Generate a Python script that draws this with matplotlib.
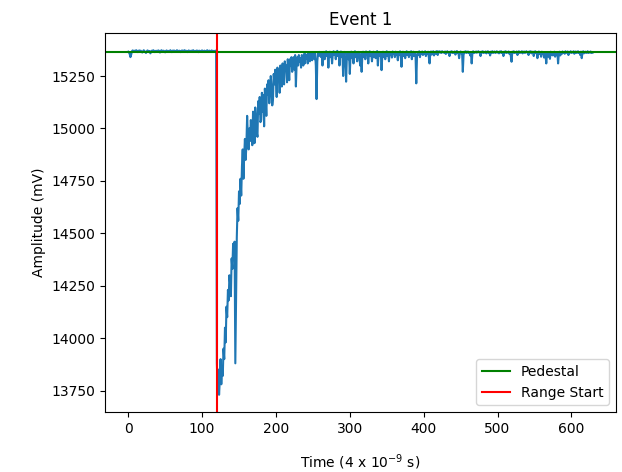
import numpy as np
import matplotlib
matplotlib.use('Agg')
import matplotlib.pyplot as plt

# waveform, in mV
pre_pulse = [
    15366, 15362, 15355, 15340, 15352, 15368, 15372, 15370, 15366, 15371,
    15369, 15373, 15368, 15364, 15370, 15372, 15367, 15371, 15366, 15362,
    15368, 15373, 15369, 15365, 15360, 15367, 15372, 15370, 15366, 15369,
    15358, 15366, 15371, 15368, 15373, 15369, 15364, 15370, 15367, 15371,
    15366, 15372, 15368, 15362, 15369, 15373, 15370, 15366, 15371, 15367,
    15363, 15369, 15372, 15368, 15365, 15370, 15366, 15373, 15369, 15364,
    15371, 15367, 15372, 15368, 15366, 15370, 15373, 15369, 15365, 15371,
    15368, 15364, 15370, 15372, 15367, 15369, 15373, 15366, 15371, 15368,
    15364, 15369, 15372, 15367, 15370, 15366, 15371, 15368, 15373, 15369,
    15365, 15370, 15367, 15372, 15368, 15364, 15371, 15369, 15366, 15370,
    15372, 15368, 15365, 15371, 15369, 15366, 15370, 15373, 15367, 15369,
    15371, 15366, 15368, 15372, 15369, 15365, 15370, 15367, 15371, 15368,
]
pulse = [
    13880, 13760, 13850, 13730, 13800, 13900, 13780, 13860, 13820, 13950,
    13900, 14050, 13980, 14150, 14100, 14230, 14180, 14300, 14260, 14200,
    14380, 14330, 14450, 14400, 14460, 13880, 14200, 14480, 14620, 14560,
    14700, 14640, 14760, 14680, 14820, 14900, 14760, 14870, 14950, 14850,
    14920, 15060, 14960, 14900, 15000, 14940, 15040, 14980, 14920, 15080,
    15020, 14930, 15100, 15050, 14980, 14960, 15130, 15070, 15150, 15030,
    15040, 15170, 15080, 15160, 15010, 15190, 15140, 15060, 15210, 15160,
    15230, 15120, 15180, 15250, 15200, 15110, 15140, 15260, 15210, 15280,
    15230, 15150, 15290, 15250, 15270, 15170, 15300, 15260, 15200, 15310,
    15270, 15210, 15320, 15280, 15300, 15220, 15330, 15290, 15230, 15330,
    15300, 15340, 15270, 15310, 15340, 15280, 15350, 15200, 15310, 15340,
    15300, 15350, 15320, 15335, 15290, 15350, 15330, 15300, 15355, 15310,
    15355, 15335, 15345, 15310, 15360, 15340, 15320, 15360, 15345, 15325,
    15360, 15345, 15330, 15360, 15300, 15140, 15320, 15362, 15345, 15365,
]
tail = [
    15355, 15340, 15362, 15300, 15350, 15365, 15330, 15358, 15368, 15345,
    15360, 15290, 15355, 15366, 15340, 15362, 15310, 15357, 15368, 15350,
    15365, 15330, 15360, 15370, 15345, 15362, 15300, 15355, 15367, 15340,
    15360, 15250, 15350, 15365, 15320, 15223, 15340, 15362, 15330, 15355,
    15260, 15350, 15366, 15335, 15360, 15310, 15355, 15368, 15340, 15362,
    15320, 15358, 15365, 15345, 15300, 15355, 15270, 15350, 15366, 15340,
    15360, 15330, 15367, 15350, 15362, 15310, 15358, 15368, 15345, 15360,
    15320, 15355, 15366, 15340, 15362, 15335, 15358, 15369, 15300, 15355,
    15365, 15345, 15360, 15278, 15350, 15366, 15340, 15362, 15330, 15358,
    15368, 15345, 15360, 15320, 15365, 15350, 15362, 15338, 15367, 15355,
    15362, 15340, 15366, 15352, 15360, 15325, 15364, 15350, 15368, 15345,
    15294, 15355, 15366, 15345, 15362, 15335, 15360, 15368, 15350, 15363,
    15340, 15365, 15352, 15368, 15330, 15360, 15366, 15345, 15362, 15350,
    15215, 15345, 15364, 15352, 15368, 15340, 15362, 15356, 15367, 15350,
    15364, 15355, 15368, 15345, 15362, 15358, 15366, 15340, 15310, 15360,
    15367, 15352, 15363, 15368, 15348, 15362, 15366, 15355, 15369, 15350,
    15364, 15368, 15362, 15366, 15360, 15368, 15363, 15365, 15360, 15367,
    15355, 15363, 15368, 15361, 15364, 15345, 15366, 15362, 15368, 15360,
    15365, 15361, 15367, 15352, 15362, 15369, 15360, 15364, 15335, 15360,
    15367, 15358, 15365, 15270, 15350, 15366, 15362, 15368, 15360, 15363,
    15367, 15360, 15364, 15348, 15362, 15310, 15358, 15368, 15360, 15365,
    15362, 15367, 15361, 15364, 15368, 15362, 15365, 15345, 15366, 15362,
    15368, 15360, 15365, 15362, 15367, 15358, 15363, 15368, 15361, 15364,
    15348, 15366, 15362, 15368, 15360, 15364, 15367, 15360, 15362, 15368,
    15362, 15365, 15358, 15367, 15362, 15368, 15360, 15364, 15345, 15366,
    15362, 15368, 15360, 15365, 15362, 15367, 15356, 15364, 15345, 15318,
    15366, 15362, 15368, 15360, 15364, 15362, 15367, 15350, 15363, 15368,
    15360, 15365, 15362, 15368, 15358, 15364, 15367, 15360, 15362, 15368,
    15362, 15365, 15350, 15367, 15362, 15368, 15358, 15364, 15366, 15345,
    15362, 15368, 15360, 15365, 15335, 15360, 15367, 15355, 15364, 15342,
    15366, 15358, 15362, 15338, 15360, 15348, 15310, 15355, 15364, 15342,
    15360, 15332, 15366, 15352, 15362, 15348, 15358, 15366, 15342, 15360,
    15352, 15364, 15310, 15355, 15366, 15348, 15362, 15355, 15367, 15360,
    15364, 15356, 15368, 15360, 15362, 15367, 15350, 15364, 15362, 15368,
    15360, 15365, 15362, 15368, 15356, 15364, 15367, 15360, 15362, 15368,
    15360, 15364, 15350, 15366, 15335, 15360, 15368, 15358, 15364, 15366,
    15360, 15362, 15368, 15360, 15365, 15362, 15367, 15360, 15364, 15362,
]
amplitude = np.array(pre_pulse + pulse + tail)
pedestal = 15365
range_start = 120

fig = plt.figure(figsize=(6.22, 4.72), dpi=100)
ax = fig.add_axes([0.1688, 0.1271, 0.8216, 0.803])

ax.plot(amplitude)
ax.axhline(pedestal, color='green', label='Pedestal')
ax.axvline(range_start, color='red', label='Range Start')

ax.set_title('Event 1')
ax.set_ylabel('Amplitude (mV)')
ax.set_xlabel('Time (4 x 10$^{-9}$ s)', labelpad=12)
ax.legend(loc='lower right')

plt.savefig('out.png', dpi=100)
